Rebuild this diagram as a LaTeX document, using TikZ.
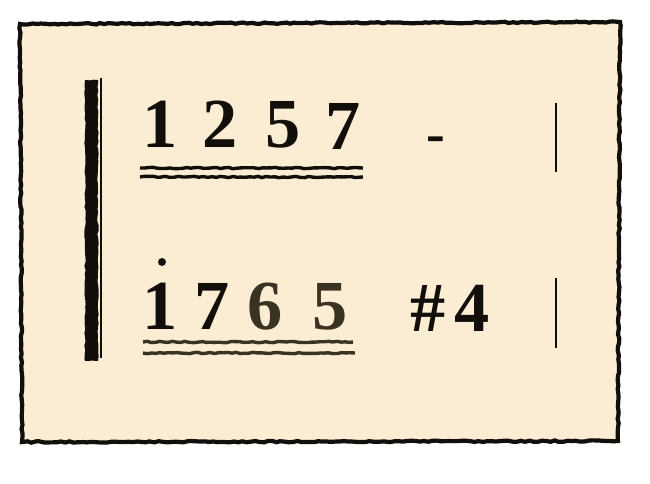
\documentclass[tikz,border=0pt]{standalone}
\usepackage{fontspec}
\setmainfont{Liberation Serif}
\usetikzlibrary{decorations.pathmorphing}

\definecolor{paper}{RGB}{251,237,212}
\definecolor{ink}{RGB}{18,14,10}
\definecolor{inkb}{RGB}{58,50,34}

\tikzset{
  rough/.style={decorate, decoration={random steps, segment length=3pt, amplitude=0.5pt}},
  digit/.style={font=\fontsize{50}{60}\selectfont\bfseries, anchor=base, inner sep=0pt},
}

\begin{document}
\begin{tikzpicture}[x=0.025cm, y=-0.025cm]
    \useasboundingbox (0,0) rectangle (650,484);

    % Draw the paper card
    \fill[paper] (20,24) rectangle (620,441);
    \draw[ink, line width=3pt, rough] (20,24) -- (620,22) -- (618,441) -- (22,442) -- cycle;

    % Draw the bracket on the left
    \fill[ink, rough] (85,80) rectangle (98,361);
    \draw[ink, line width=1pt] (101,78) -- (101,358);

    % First row: 1 2 5 7 -
    \node[digit, ink] (a1) at (160,148) {1};
    \node[digit, ink] (a2) at (220,148) {2};
    \node[digit, ink] (a3) at (283,148) {5};
    \node[digit, ink] (a4) at (343,150) {7};
    \node[digit, ink, font=\fontsize{40}{48}\selectfont\bfseries] (ad) at (436,153) {-};
    \coordinate (u1l) at (140,168);
    \coordinate (u1r) at (363,168);
    \coordinate (u2l) at (140,177);
    \coordinate (u2r) at (363,177);
    \draw[ink, line width=2.4pt, rough] (u1l) -- (u1r);
    \draw[ink, line width=2.4pt, rough] (u2l) -- (u2r);
    \coordinate (b1t) at (556,103);
    \coordinate (b1b) at (556,172);
    \draw[ink, line width=1.3pt] (b1t) -- (b1b);

    % Second row: 1(high) 7 6 5 #4
    \node[digit, ink] (c1) at (160,330) {1};
    \fill[ink] (162,262) circle (4);
    \node[digit, ink] (c2) at (212,330) {7};
    \node[digit, inkb] (c3) at (265,330) {6};
    \node[digit, inkb] (c4) at (330,330) {5};
    \node[digit, ink] (c5) at (450,332) {\#\hspace{0.12em}4};
    \coordinate (v1l) at (143,342);
    \coordinate (v1r) at (353,342);
    \coordinate (v2l) at (143,353);
    \coordinate (v2r) at (355,353);
    \draw[inkb, line width=2.4pt, rough] (v1l) -- (v1r);
    \draw[inkb, line width=2.4pt, rough] (v2l) -- (v2r);
    \coordinate (b2t) at (556,278);
    \coordinate (b2b) at (556,348);
    \draw[ink, line width=1.3pt] (b2t) -- (b2b);
\end{tikzpicture}
\end{document}
